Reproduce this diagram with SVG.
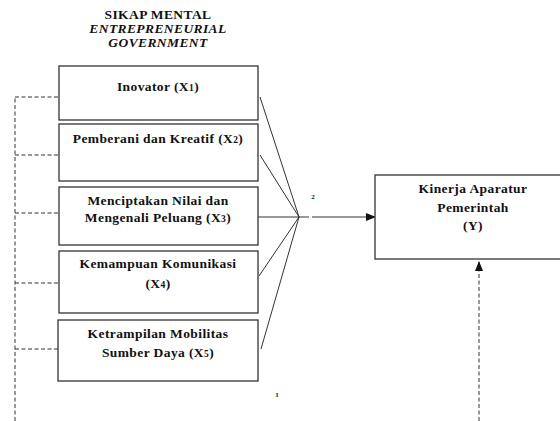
<svg xmlns="http://www.w3.org/2000/svg" width="560" height="421" viewBox="0 0 560 421">
<defs>
<style>
.box{fill:#fff;stroke:#333;stroke-width:1.3}
.t{font-family:'Liberation Serif','Times New Roman','DejaVu Serif',serif;font-weight:bold;font-size:13.5px;letter-spacing:0.4px;fill:#111;text-anchor:middle}
.i{font-style:italic}
.s{font-family:'Liberation Serif',serif;font-weight:bold;font-size:7px;fill:#111;text-anchor:middle}
.ln{stroke:#333;stroke-width:1;fill:none}
.dash{stroke:#333;stroke-width:1;fill:none;stroke-dasharray:4,2.5}
</style>
<marker id="ah" markerWidth="10" markerHeight="8" refX="9" refY="4" orient="auto" markerUnits="userSpaceOnUse">
<path d="M0,0 L10,4 L0,8 Z" fill="#111"/>
</marker>
</defs>
<rect width="560" height="421" fill="#fff"/>
<g id="title">
<text class="t" x="158" y="19">SIKAP MENTAL</text>
<text class="t i" x="158" y="33">ENTREPRENEURIAL</text>
<text class="t i" x="158" y="47">GOVERNMENT</text>
</g>
<g id="connectors">
<path class="dash" d="M15,421 L15,97"/>
<path class="dash" d="M15,97 H59 M15,155 H59 M15,213 H59 M15,283 H59 M15,349 H59"/>
<path class="ln" d="M260,97 L299,217 M260,155 L299,217 M258,217 L299,217 M259,276 L299,217 M261,349 L299,217"/>
<path class="ln" d="M299,217 L309,217 M312,217 L375,217" marker-end="url(#ah)"/>
<path class="dash" d="M479,421 L479,262" marker-end="url(#ah)"/>
<text class="s" x="313" y="199">2</text>
<text class="s" x="277" y="397">1</text>
</g>
<g id="x1">
<rect class="box" x="59" y="66" width="199" height="54"/>
<text class="t" x="158" y="91">Inovator (X<tspan font-size="9.5">1</tspan>)</text>
</g>
<g id="x2">
<rect class="box" x="59" y="124" width="199" height="57"/>
<text class="t" x="158" y="143">Pemberani dan Kreatif (X<tspan font-size="9.5">2</tspan>)</text>
</g>
<g id="x3">
<rect class="box" x="59" y="187" width="199" height="58"/>
<text class="t" x="158" y="205">Menciptakan Nilai dan</text>
<text class="t" x="158" y="222">Mengenali Peluang (X<tspan font-size="9.5">3</tspan>)</text>
</g>
<g id="x4">
<rect class="box" x="59" y="251" width="199" height="62"/>
<text class="t" x="158" y="268">Kemampuan Komunikasi</text>
<text class="t" x="158" y="288">(X<tspan font-size="9.5">4</tspan>)</text>
</g>
<g id="x5">
<rect class="box" x="58" y="320" width="200" height="61"/>
<text class="t" x="158" y="338">Ketrampilan Mobilitas</text>
<text class="t" x="158" y="357">Sumber Daya (X<tspan font-size="9.5">5</tspan>)</text>
</g>
<g id="y">
<rect class="box" x="375" y="175" width="200" height="84"/>
<text class="t" x="473" y="193">Kinerja Aparatur</text>
<text class="t" x="473" y="212">Pemerintah</text>
<text class="t" x="473" y="230">(Y)</text>
</g>
</svg>
